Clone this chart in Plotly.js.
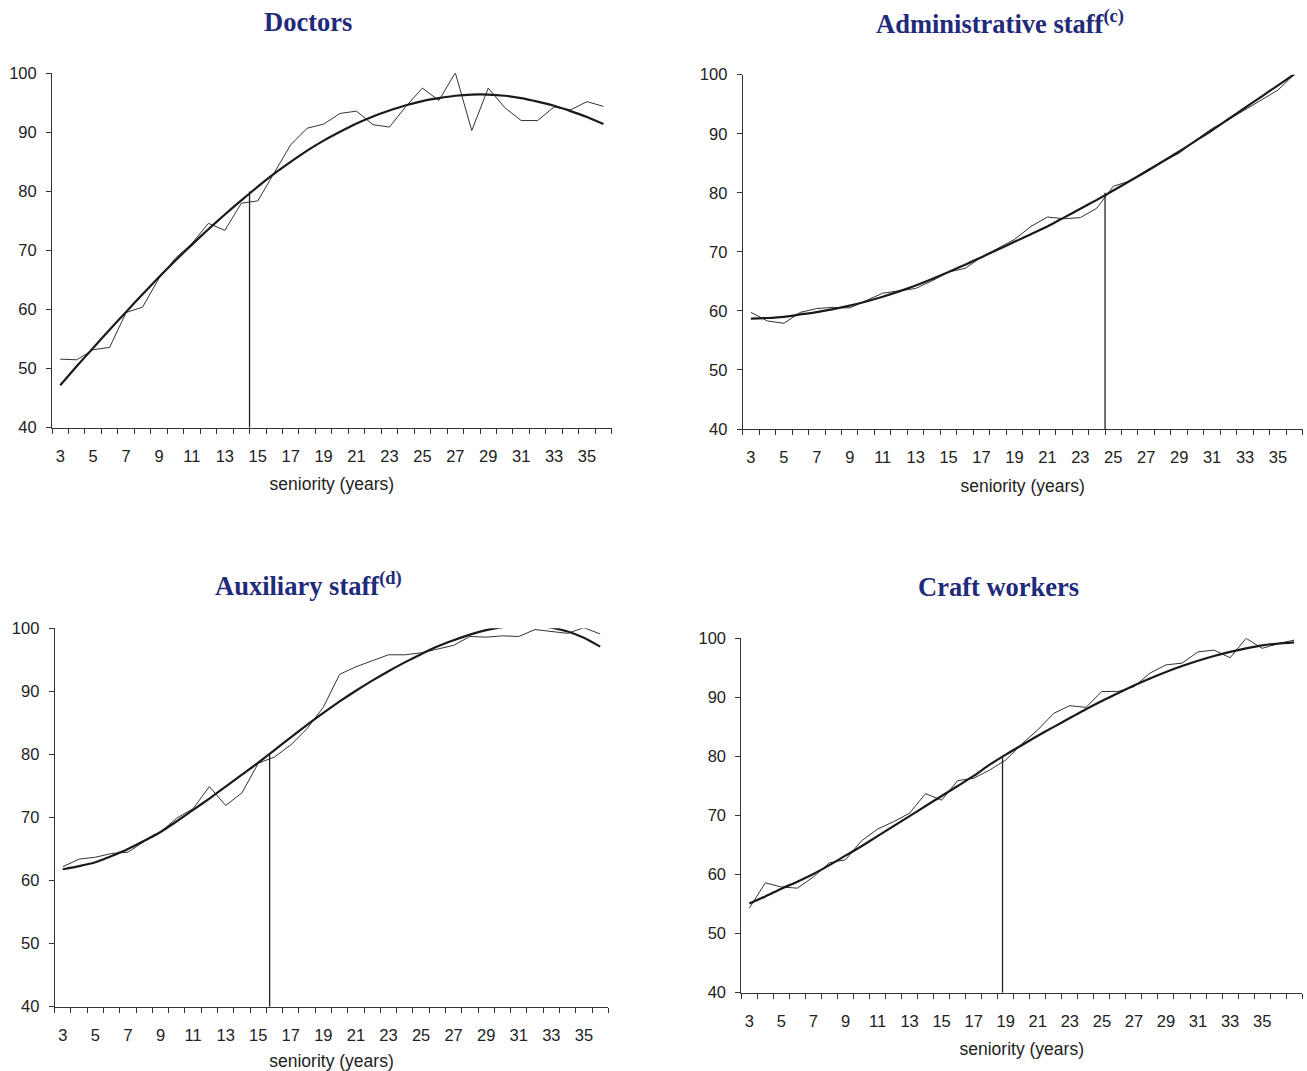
<!DOCTYPE html>
<html>
<head>
<meta charset="utf-8">
<script src="https://cdn.plot.ly/plotly-3.0.1.min.js"></script>
<style>html,body{margin:0;padding:0;background:#fff;}#chart{width:1307px;height:1071px;}</style>
</head>
<body>
<div id="chart"></div>
<script>
// ---------- DATA ----------
const seniority36 = [3,4,5,6,7,8,9,10,11,12,13,14,15,16,17,18,19,20,21,22,23,24,25,26,27,28,29,30,31,32,33,34,35,36];
const seniority37 = [3,4,5,6,7,8,9,10,11,12,13,14,15,16,17,18,19,20,21,22,23,24,25,26,27,28,29,30,31,32,33,34,35,36,37];
const tickLabels = [3,5,7,9,11,13,15,17,19,21,23,25,27,29,31,33,35];

const doctorsObserved = [51.6,51.5,53.2,53.6,59.5,60.4,65.3,68.7,71.2,74.6,73.4,78.0,78.4,83.1,87.9,90.7,91.4,93.2,93.6,91.3,90.9,94.4,97.5,95.4,100.1,90.3,97.5,94.2,92.0,92.0,94.3,93.8,95.2,94.4];
const doctorsFitted   = [47.2,50.4,53.5,56.6,59.6,62.6,65.5,68.3,71.0,73.6,76.1,78.5,80.8,83.0,85.0,86.9,88.6,90.1,91.5,92.7,93.7,94.6,95.3,95.8,96.2,96.4,96.4,96.2,95.8,95.2,94.5,93.6,92.6,91.4];

const adminObserved = [59.75,58.3,57.9,59.75,60.4,60.6,60.5,61.8,63.0,63.4,63.8,65.1,66.6,67.2,69.1,70.6,72.1,74.3,75.9,75.6,75.8,77.4,81.1,82.0,83.8,85.3,86.7,88.9,90.9,92.4,94.1,95.8,97.4,100.1];
const adminFitted   = [58.7,58.8,59.0,59.4,59.8,60.3,60.9,61.6,62.4,63.3,64.3,65.4,66.6,67.8,69.1,70.4,71.7,73.0,74.3,75.8,77.3,78.8,80.4,82.0,83.6,85.3,87.0,88.8,90.6,92.5,94.4,96.3,98.2,100.1];

const auxObserved = [62.2,63.4,63.7,64.3,64.5,66.2,67.7,69.9,71.4,74.9,71.9,73.9,78.6,79.6,81.5,84.1,87.5,92.7,93.9,94.9,95.8,95.8,96.1,96.7,97.3,98.7,98.6,98.8,98.7,99.8,99.5,99.2,100.1,99.1];
const auxFitted   = [61.8,62.3,62.9,63.9,65.0,66.3,67.7,69.4,71.2,73.0,74.9,76.8,78.7,80.7,82.7,84.7,86.6,88.4,90.1,91.7,93.2,94.6,95.9,97.1,98.1,99.0,99.7,100.2,100.4,100.4,100.1,99.5,98.5,97.1];

const craftObserved = [54.3,58.6,57.9,57.7,59.6,62.0,62.5,65.7,67.7,68.95,70.4,73.7,72.6,75.9,76.3,77.7,79.4,82.1,84.5,87.3,88.6,88.3,91.0,91.0,91.8,94.1,95.5,95.8,97.7,98.0,96.7,100.0,98.3,99.1,99.7];
const craftFitted   = [55.1,56.3,57.6,58.8,60.1,61.6,63.2,64.8,66.5,68.2,69.9,71.6,73.3,75.0,76.7,78.6,80.3,81.9,83.5,85.0,86.5,88.0,89.4,90.7,92.0,93.2,94.3,95.3,96.2,97.0,97.7,98.3,98.8,99.1,99.3];

const panelTitles = ["Doctors", "Administrative staff<sup>(c)</sup>", "Auxiliary staff<sup>(d)</sup>", "Craft workers"];
const markerSeniority = [14.5, 24.5, 15.7, 18.8];   // seniority where fitted curve reaches 80
const markerLevel = 80;
const axisMin = 40;
const xAxisTitle = "seniority (years)";

// ---------- LAYOUT ----------
const W = 1307, H = 1071;
const panels = [
  {x: seniority36, obs: doctorsObserved, fit: doctorsFitted, px: [52, 611.7], py: [73.3, 427.7], xr: [2.5, 36.5], tx: 307.5, ty: 22},
  {x: seniority36, obs: adminObserved,   fit: adminFitted,   px: [742.7, 1302.7], py: [74.7, 429], xr: [2.5, 36.5], tx: 1000, ty: 22},
  {x: seniority36, obs: auxObserved,     fit: auxFitted,     px: [54.7, 608.3], py: [628.3, 1006.7], xr: [2.5, 36.5], tx: 308, ty: 584},
  {x: seniority37, obs: craftObserved,   fit: craftFitted,   px: [741.3, 1302.2], py: [638.3, 992.7], xr: [2.5, 37.5], tx: 998.5, ty: 587}
];

const tickFont = {family: "Liberation Sans, Arial, sans-serif", size: 16.5, color: "#222"};
const traces = [];
const layout = {
  width: W, height: H,
  margin: {l: 0, r: 0, t: 0, b: 0},
  paper_bgcolor: "#fff", plot_bgcolor: "#fff",
  showlegend: false,
  annotations: []
};

panels.forEach((p, i) => {
  const n = i === 0 ? "" : String(i + 1);
  const xa = "x" + n, ya = "y" + n;
  traces.push({x: p.x, y: p.obs, xaxis: xa, yaxis: ya, type: "scatter", mode: "lines",
               line: {color: "#333", width: 1}, hoverinfo: "skip"});
  traces.push({x: p.x, y: p.fit, xaxis: xa, yaxis: ya, type: "scatter", mode: "lines",
               line: {color: "#1a1a1a", width: 2.2, shape: "spline", smoothing: 0.6}, hoverinfo: "skip"});
  traces.push({x: [markerSeniority[i], markerSeniority[i]], y: [axisMin, markerLevel], xaxis: xa, yaxis: ya,
               type: "scatter", mode: "lines", line: {color: "#222", width: 1.3}, hoverinfo: "skip"});

  layout["xaxis" + n] = {
    domain: [p.px[0] / W, p.px[1] / W],
    anchor: ya,
    range: p.xr,
    tickmode: "array",
    tickvals: tickLabels,
    ticktext: tickLabels.map(String),
    ticks: "",
    ticklabelstandoff: 13,
    showline: true, linecolor: "#333", linewidth: 1,
    showgrid: false, zeroline: false,
    tickfont: tickFont,
    minor: {tickmode: "linear", tick0: 2.5, dtick: 1, ticks: "outside", ticklen: 5, tickwidth: 1, tickcolor: "#333", showgrid: false},
    title: {text: xAxisTitle, font: {family: "Liberation Sans, Arial, sans-serif", size: 17.5, color: "#222"}, standoff: 14}
  };
  layout["yaxis" + n] = {
    domain: [1 - p.py[1] / H, 1 - p.py[0] / H],
    anchor: xa,
    range: [40, 100],
    tickmode: "linear", tick0: 40, dtick: 10,
    ticks: "outside", ticklen: 5, tickwidth: 1, tickcolor: "#333",
    ticklabelstandoff: 6,
    showline: true, linecolor: "#333", linewidth: 1,
    showgrid: false, zeroline: false,
    tickfont: tickFont
  };
  layout.annotations.push({
    text: panelTitles[i], xref: "paper", yref: "paper",
    x: p.tx / W, y: 1 - p.ty / H, xanchor: "center", yanchor: "middle", showarrow: false,
    font: {family: "Liberation Serif, 'DejaVu Serif', serif", size: 26.5, color: "#1f2a7a", weight: "bold"}
  });
});

Plotly.newPlot("chart", traces, layout, {staticPlot: true, displayModeBar: false});
</script>
</body>
</html>
